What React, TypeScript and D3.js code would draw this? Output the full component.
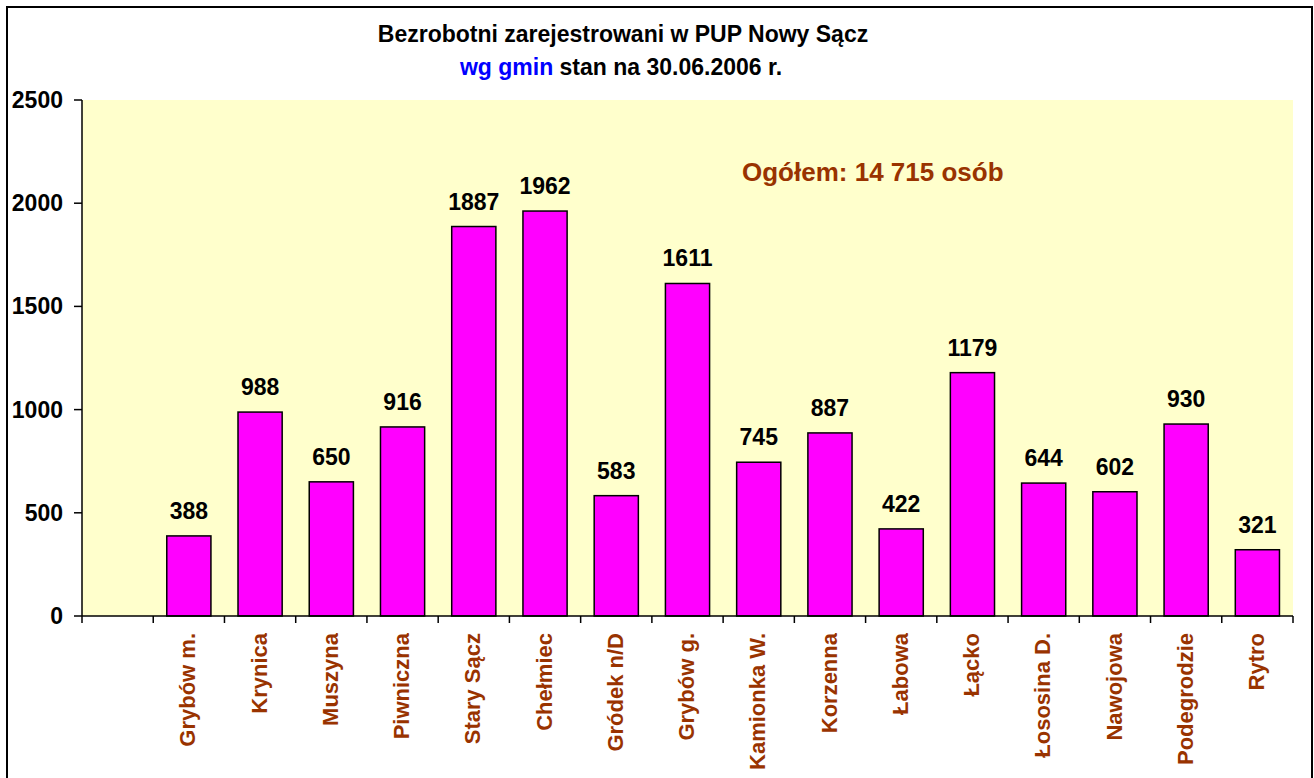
import React from "react";
import * as d3 from "d3";

const categories: string[] = [
  "",
  "Grybów m.",
  "Krynica",
  "Muszyna",
  "Piwniczna",
  "Stary Sącz",
  "Chełmiec",
  "Gródek n/D",
  "Grybów g.",
  "Kamionka W.",
  "Korzenna",
  "Łabowa",
  "Łącko",
  "Łososina D.",
  "Nawojowa",
  "Podegrodzie",
  "Rytro",
];

const values: (number | null)[] = [
  null, 388, 988, 650, 916, 1887, 1962, 583, 1611, 745, 887, 422, 1179, 644, 602, 930, 321,
];

const yTicks: number[] = [0, 500, 1000, 1500, 2000, 2500];

const titleLine1 = "Bezrobotni zarejestrowani w PUP Nowy Sącz";
const titleBlue = "wg gmin";
const titleRest = " stan na 30.06.2006 r.";
const totalNote = "Ogółem: 14 715 osób";

const FONT = "'Liberation Sans', Arial, Helvetica, sans-serif";
const BROWN = "#993300";

export default function App() {
  const W = 1314;
  const H = 778;
  const left = 82;
  const right = 1293;
  const top = 100;
  const bottom = 616;

  const x = d3
    .scaleBand<string>()
    .domain(categories.map((c, i) => String(i)))
    .range([left, right])
    .paddingInner(0.38)
    .paddingOuter(0.19);

  const y = d3.scaleLinear().domain([0, 2500]).range([bottom, top]);

  const step = x.step();
  const boundaries = d3.range(categories.length + 1).map((i) => left + i * step);

  return (
    <svg
      width={W}
      height={H}
      style={{ position: "fixed", left: 0, top: 0, background: "#fff" }}
      fontFamily={FONT}
      fontWeight="bold"
    >
      <rect x={0} y={0} width={W} height={H} fill="#fff" />
      {/* outer border */}
      <rect x={7} y={7} width={1305} height={820} fill="none" stroke="#000" strokeWidth={2} />

      {/* title */}
      <text x={623} y={42} textAnchor="middle" fontSize={23} fill="#000">
        {titleLine1}
      </text>
      <text x={621} y={75} textAnchor="middle" fontSize={23} fill="#000">
        <tspan fill="#0000FF">{titleBlue}</tspan>
        <tspan>{titleRest}</tspan>
      </text>

      {/* plot area */}
      <rect x={left} y={top} width={right - left} height={bottom - top} fill="#FFFFCC" />

      {/* bars */}
      {categories.map((c, i) => {
        const v = values[i];
        if (v == null) return null;
        const bx = x(String(i))!;
        const bw = x.bandwidth();
        return (
          <g key={"b" + i}>
            <rect
              x={bx}
              y={y(v)}
              width={bw}
              height={y(0) - y(v)}
              fill="#FF00FF"
              stroke="#000"
              strokeWidth={1.5}
            />
            <text x={bx + bw / 2} y={y(v) - 17} textAnchor="middle" fontSize={23} fill="#000">
              {v}
            </text>
          </g>
        );
      })}

      {/* y axis */}
      <line x1={left} x2={left} y1={top} y2={bottom} stroke="#000" strokeWidth={1.5} />
      {yTicks.map((t) => (
        <g key={"y" + t}>
          <line x1={left - 8} x2={left} y1={y(t)} y2={y(t)} stroke="#000" strokeWidth={1.5} />
          <text x={63} y={y(t) + 8} textAnchor="end" fontSize={23} fill="#000">
            {t}
          </text>
        </g>
      ))}

      {/* x axis */}
      <line x1={left} x2={right} y1={bottom} y2={bottom} stroke="#000" strokeWidth={1.5} />
      {boundaries.map((bx, i) => (
        <line key={"xt" + i} x1={bx} x2={bx} y1={bottom} y2={bottom + 7} stroke="#000" strokeWidth={1.5} />
      ))}
      {categories.map((c, i) => {
        if (!c) return null;
        const cx = x(String(i))! + x.bandwidth() / 2;
        return (
          <text
            key={"xl" + i}
            transform={`translate(${cx},633) rotate(-90)`}
            textAnchor="end"
            dy="0.3em"
            fontSize={22}
            fill={BROWN}
          >
            {c}
          </text>
        );
      })}

      {/* total note */}
      <text x={742} y={181} fontSize={26} fill={BROWN}>
        {totalNote}
      </text>
    </svg>
  );
}
